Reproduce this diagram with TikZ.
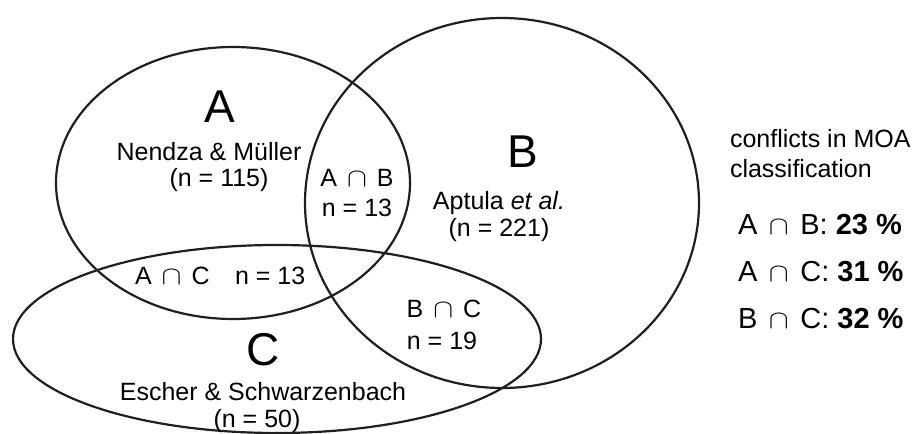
\documentclass[tikz,border=0pt]{standalone}
\usepackage{fontspec}
\setmainfont{Liberation Sans}
\newcommand\capop{\hspace{0.4em}\scalebox{1.2}[1.05]{\ensuremath{\cap}}\hspace{0.4em}}
\begin{document}
\begin{tikzpicture}[x=1bp,y=-1bp,
  every node/.style={inner sep=0pt, outer sep=0pt},
  ell/.style={draw=black!88, line width=2.2bp},
  big/.style={font=\fontsize{46bp}{50bp}\selectfont, anchor=base},
  lab/.style={font=\fontsize{25bp}{29bp}\selectfont, anchor=base},
  labw/.style={font=\fontsize{25bp}{29bp}\selectfont, anchor=base west},
  note/.style={font=\fontsize{25bp}{29bp}\selectfont, anchor=base west},
  pct/.style={font=\fontsize{29bp}{33bp}\selectfont, anchor=base west}]
\useasboundingbox (0,0) rectangle (920,434);
% sets
\draw[ell] (233,183) ellipse [x radius=177, y radius=136];
\draw[ell] (502,203) ellipse [x radius=197, y radius=185];
\draw[ell] (277,339) ellipse [x radius=264, y radius=94];
% set A
\node[big] (lA) at (220,123) {A};
\node[lab] (nA) at (209,161) {Nendza \& Müller};
\node[lab] (cA) at (219,187) {(n = 115)};
% set B
\node[big] (lB) at (523,168) {B};
\node[lab] (nB) at (499,210) {Aptula \textit{et al.}};
\node[lab] (cB) at (499,237) {(n = 221)};
% set C
\node[big] (lC) at (263,366) {C};
\node[lab] (nC) at (263,400) {Escher \& Schwarzenbach};
\node[lab] (cC) at (257,427) {(n = 50)};
% intersections
\node[lab] (iAB) at (357,187) {A\capop B};
\node[lab] (iABn) at (357,217) {n = 13};
\node[labw] (iAC) at (135,285) {A\capop C};
\node[labw] (iACn) at (235,285) {n = 13};
\node[lab] (iBC) at (444,318) {B\capop C};
\node[lab] (iBCn) at (442,350) {n = 19};
% legend
\node[note] (t1) at (730,148) {conflicts in MOA};
\node[note] (t2) at (730,178) {classification};
\node[pct] (p1) at (738,235) {A\capop B: \textbf{23 \%}};
\node[pct] (p2) at (738,282) {A\capop C: \textbf{31 \%}};
\node[pct] (p3) at (738,329) {B\capop C: \textbf{32 \%}};
\end{tikzpicture}
\end{document}
